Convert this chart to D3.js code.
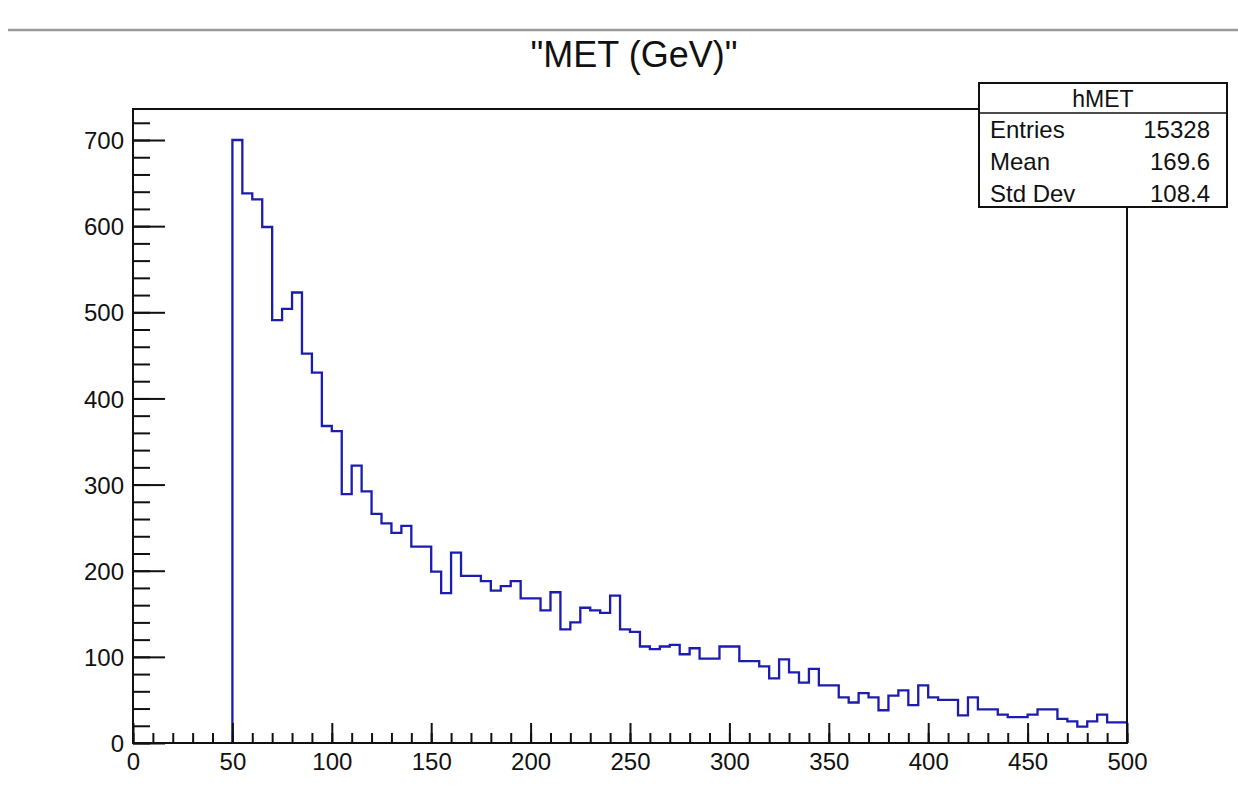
<!DOCTYPE html>
<html>
<head>
<meta charset="utf-8">
<script src="https://cdn.jsdelivr.net/npm/d3@7"></script>
<style>
  html, body { margin: 0; padding: 0; background: #fff; }
  svg { display: block; }
  text { font-family: "Liberation Sans", Arial, Helvetica, sans-serif; fill: #111; }
</style>
</head>
<body>
<svg id="chart" width="1238" height="811"></svg>
<script>
// ---- data ----
const binLowEdges = [50,55,60,65,70,75,80,85,90,95,100,105,110,115,120,125,130,135,140,145,
  150,155,160,165,170,175,180,185,190,195,200,205,210,215,220,225,230,235,240,245,
  250,255,260,265,270,275,280,285,290,295,300,305,310,315,320,325,330,335,340,345,
  350,355,360,365,370,375,380,385,390,395,400,405,410,415,420,425,430,435,440,445,
  450,455,460,465,470,475,480,485,490,495];
const binWidth = 5;
const counts = [700,638,631,599,491,504,523,452,430,368,362,289,322,292,266,255,244,252,228,228,
  199,174,221,194,194,188,177,182,188,168,168,154,175,132,140,157,154,151,171,132,
  129,112,109,112,114,103,110,98,98,112,112,95,95,89,75,97,82,70,86,67,
  67,53,47,58,53,38,55,61,44,67,53,50,50,32,53,39,39,33,30,30,
  33,39,39,28,25,19,25,33,24,24];
const xMajorTicks = [0,50,100,150,200,250,300,350,400,450,500];
const xMinorTicks = d3.range(0, 501, 10);
const yMajorTicks = [0,100,200,300,400,500,600,700];
const yMinorTicks = d3.range(0, 721, 20);
const titleText = '"MET (GeV)"';
const statsName = "hMET";
const statsLabels = ["Entries", "Mean", "Std Dev"];
const statsValues = ["15328", "169.6", "108.4"];

// ---- layout ----
const svg = d3.select("#chart");
const L = 133, R = 1127, T = 109, B = 743;
const x = d3.scaleLinear().domain([0, 500]).range([L, R]);
const y = d3.scaleLinear().domain([0, 736]).range([B, T]);

// top grey separator
svg.append("line").attr("x1", 8).attr("x2", 1238).attr("y1", 30).attr("y2", 30)
  .attr("stroke", "#9a9a9a").attr("stroke-width", 2.5);

// title
svg.append("text").attr("x", 634).attr("y", 67).attr("text-anchor", "middle")
  .style("font-size", "36px").text(titleText);

// histogram step path
const pts = [[x(binLowEdges[0]), y(0)]];
binLowEdges.forEach((e, i) => {
  pts.push([x(e), y(counts[i])]);
  pts.push([x(e + binWidth), y(counts[i])]);
});
svg.append("path")
  .attr("d", d3.line()(pts))
  .attr("fill", "none")
  .attr("stroke", "#1c1cae")
  .attr("stroke-width", 2.3)
  .attr("stroke-linejoin", "miter");

// axes: minor ticks
const gxMinor = svg.append("g").attr("transform", `translate(0,${B})`)
  .call(d3.axisBottom(x).tickValues(xMinorTicks).tickSize(-10).tickFormat(""));
const gxMajor = svg.append("g").attr("transform", `translate(0,${B})`)
  .call(d3.axisBottom(x).tickValues(xMajorTicks).tickSize(-20).tickFormat(d3.format("d")));
const gyMinor = svg.append("g").attr("transform", `translate(${L},0)`)
  .call(d3.axisLeft(y).tickValues(yMinorTicks).tickSize(-17).tickFormat(""));
const gyMajor = svg.append("g").attr("transform", `translate(${L},0)`)
  .call(d3.axisLeft(y).tickValues(yMajorTicks).tickSize(-32).tickFormat(d3.format("d")));

[gxMinor, gxMajor, gyMinor, gyMajor].forEach(g => {
  g.select(".domain").remove();
  g.selectAll(".tick line").attr("stroke", "#111").attr("stroke-width", 2);
  g.selectAll(".tick text").style("font-size", "24px").style("font-family", '"Liberation Sans", Arial, sans-serif').attr("fill", "#111");
});
gxMajor.selectAll(".tick text").attr("y", 27).attr("dy", null);
gyMajor.selectAll(".tick text").attr("x", -9).attr("dy", "0.36em");

// frame
svg.append("rect").attr("x", L).attr("y", T).attr("width", R - L).attr("height", B - T)
  .attr("fill", "none").attr("stroke", "#111").attr("stroke-width", 2);

// stats box
const bx = 979, by = 83, bw = 248, bh = 124, hdr = 30;
const sb = svg.append("g");
sb.append("rect").attr("x", bx).attr("y", by).attr("width", bw).attr("height", bh)
  .attr("fill", "#fff").attr("stroke", "#111").attr("stroke-width", 2);
sb.append("line").attr("x1", bx).attr("x2", bx + bw).attr("y1", by + hdr).attr("y2", by + hdr)
  .attr("stroke", "#111").attr("stroke-width", 1.5);
sb.append("text").attr("x", bx + bw / 2).attr("y", by + 24).attr("text-anchor", "middle")
  .style("font-size", "23px").text(statsName);
statsLabels.forEach((lab, i) => {
  const yy = 138 + i * 32;
  sb.append("text").attr("x", 990).attr("y", yy).style("font-size", "24px").text(lab);
  sb.append("text").attr("x", 1210).attr("y", yy).attr("text-anchor", "end")
    .style("font-size", "24px").text(statsValues[i]);
});
</script>
</body>
</html>
